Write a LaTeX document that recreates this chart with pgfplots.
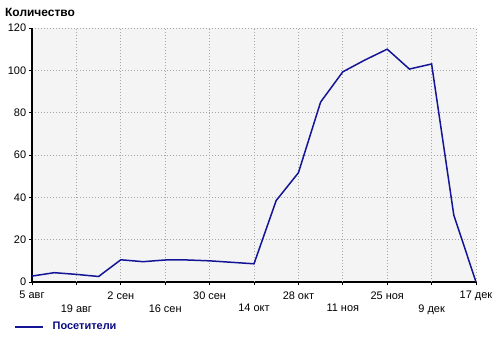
\documentclass[border=0pt]{standalone}
\usepackage{pgfplots}
\pgfplotsset{compat=1.18}
\usepackage{fontspec}
\setmainfont{Liberation Sans}
\definecolor{lineblue}{RGB}{20,20,150}
\definecolor{legblue}{RGB}{10,10,130}
\definecolor{plotbg}{RGB}{244,244,244}
\begin{document}
\fontsize{11}{13}\selectfont
\begin{tikzpicture}
\path[use as bounding box] (-32bp,-57bp) rectangle (468bp,282bp);
\begin{axis}[
  at={(0,0)}, anchor=south west, scale only axis,
  width=444bp, height=254bp,
  xmin=0, xmax=20, ymin=0, ymax=120,
  axis lines*=left,
  axis line style={line width=1.6bp, black},
  axis background/.style={fill=plotbg},
  /pgf/number format/assume math mode=true,
  every tick label/.append style={font=\fontsize{11}{13}\selectfont},
  ytick={0,20,...,120},
  yticklabel style={xshift=1bp},
  xtick={0,4,8,12,16,20},
  xticklabels={5 авг, 2 сен, 30 сен, 28 окт, 25 ноя, 17 дек},
  extra x ticks={2,6,10,14,18},
  extra x tick labels={19 авг, 16 сен, 14 окт, 11 ноя, 9 дек},
  extra x tick style={grid=major, xticklabel style={yshift=-13bp}},
  xticklabel style={yshift=-2.5bp},
  grid=major,
  major grid style={dash pattern=on 0.9bp off 2.1bp, gray!70, line width=0.8bp},
  tick align=outside, major tick length=3bp,
  tick style={black, line width=0.8bp},
  legend style={at={(axis description cs:-0.0405,-0.1772)}, anchor=west,
    draw=none, fill=none, inner sep=0pt,
    font=\bfseries\fontsize{11}{13}\selectfont, text=legblue,
    /tikz/every odd column/.append style={column sep=7bp}},
  legend image code/.code={\draw[#1] (0bp,0bp) -- (28bp,0bp);},
  clip=false,
]
\addplot[lineblue, line width=1.5bp] coordinates {
(0,2.8) (1,4.4) (2,3.6) (3,2.6) (4,10.5) (5,9.6) (6,10.4) (7,10.4) (8,10.0)
(9,9.3) (10,8.6) (11,38.5) (12,51.6) (13,85) (14,99.3) (15,104.9) (16,110)
(17,100.6) (18,103) (19,31.6) (20,0)
};
\addlegendentry{Посетители}
\end{axis}
\node[anchor=west, font=\bfseries\fontsize{12}{14}\selectfont, inner sep=0pt] at (-27bp,270bp) {Количество};
\end{tikzpicture}
\end{document}
